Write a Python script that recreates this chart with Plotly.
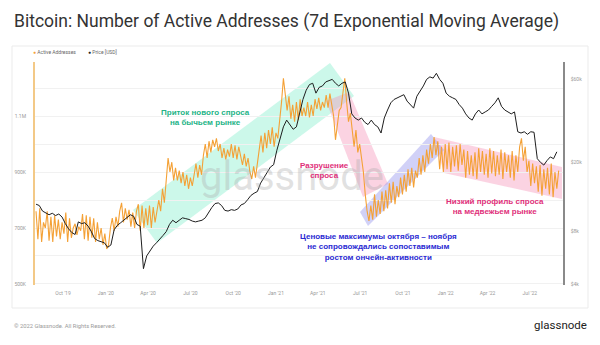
import pandas as pd
import plotly.graph_objects as go

# ---------------- data ----------------
aa_start = "2019-08-04"
active_addresses_k = [
    760, 660, 770, 650, 720,   700, 760, 655, 740, 650,   745, 670, 730, 660, 720,
    680, 755, 650, 735, 665,   700, 715, 675, 705, 690,   750, 660, 745, 655, 740,
    665, 735, 650, 720, 660,   700, 640, 680, 625, 640,   700, 735, 690, 740, 705,
    760, 790, 720, 770, 730,   765, 705, 755, 700, 760,   785, 690, 780, 700, 770,
    710, 780, 700, 775, 720,   770, 800, 760, 840, 790,   880, 950, 900, 935, 870,
    915, 870, 905, 860, 900,   850, 890, 840, 880, 850,   900, 930, 880, 925, 890,
    960, 1000, 950, 1010, 970, 1015, 990, 1020, 975, 1000, 950, 985, 945, 980, 955,
    1000, 950, 995, 945, 990,  960, 925, 965, 920, 950,   900, 875, 920, 880, 930,
    980, 1030, 970, 1040, 985, 1050, 1000, 1060, 990, 1040, 1020, 1080, 1150, 1235, 1180,
    1120, 1170, 1090, 1140, 1080, 1150, 1085, 1160, 1100, 1130, 1100, 1150, 1095, 1140, 1100,
    1160, 1125, 1165, 1120, 1150, 1130, 1175, 1130, 1180, 1140, 1100, 1015, 1060, 1120, 1130,
    1180, 1235, 1150, 1080, 1110, 1040, 990, 1050, 970, 1000, 950, 900, 820, 760, 725,
    780, 730, 820, 740, 800,   750, 830, 760, 835, 770,   860, 790, 865, 785, 850,
    810, 880, 820, 890, 830,   910, 850, 915, 845, 905,   880, 950, 890, 960, 900,
    980, 930, 1000, 950, 1025, 960, 1010, 910, 990, 900,  1000, 910, 1005, 900, 990,
    920, 995, 905, 1000, 925,  980, 880, 975, 890, 960,   885, 970, 875, 985, 900,
    975, 890, 965, 880, 985,   895, 975, 885, 960, 890,   980, 875, 970, 900, 960,
    880, 975, 870, 960, 900,   990, 1020, 940, 990, 900,  940, 850, 930, 860, 920,
    830, 925, 815, 910, 840,   915, 820, 930, 810, 900,   840, 905,
]
price_start = "2019-08-04"
price_usd_k = [
    11.5, 11.3, 10.5, 10.2, 10.0, 10.2, 9.9, 10.1, 9.7, 8.9, 8.3, 7.9, 7.7,
    9.1, 8.9, 9.0, 8.6, 8.0, 7.3, 7.1, 7.0, 6.9, 6.5, 6.7,
    8.2, 8.7, 9.0, 9.3, 9.6, 10.0, 9.8, 8.8, 8.6, 4.9, 5.8, 6.2, 6.6,
    6.9, 7.2, 7.6, 8.0, 8.8, 9.3, 9.0, 9.3, 9.6, 9.5, 9.4, 9.2, 9.1, 9.2, 9.3,
    9.6, 10.3, 11.0, 11.6, 11.7, 11.3, 10.6, 10.5, 10.7, 10.6, 10.8, 11.4, 11.6,
    12.2, 12.9, 13.3, 13.6, 15.2, 16.2, 17.5, 18.8, 19.4, 23.5, 27, 32, 35,
    33, 31, 32, 38, 46, 52, 56, 57, 50, 54, 55, 58, 59, 60, 57, 55, 57, 58,
    50, 38, 36, 35, 36, 34, 33, 35, 33, 32, 29.5, 36, 40, 44,
    46, 47, 47.5, 49, 45, 43, 41, 48, 51, 55, 60, 62, 61, 65, 60, 57,
    50, 48, 47, 46, 43, 41, 38, 36, 35, 38, 40, 38, 39, 40, 42, 44, 47,
    42, 40, 39, 38, 39, 30, 29.5, 30, 29, 30, 29.8, 21, 20, 19.3, 20.5, 21.5, 21, 23,
]
x_tick_dates = ["2019-10-01", "2020-01-01", "2020-04-01", "2020-07-01", "2020-10-01",
                "2021-01-01", "2021-04-01", "2021-07-01", "2021-10-01", "2022-01-01",
                "2022-04-01", "2022-07-01"]
x_tick_labels = ["Oct '19", "Jan '20", "Apr '20", "Jul '20", "Oct '20", "Jan '21",
                 "Apr '21", "Jul '21", "Oct '21", "Jan '22", "Apr '22", "Jul '22"]
left_tick_vals = [500000, 600000, 700000, 800000, 900000, 1000000, 1100000, 1200000]
left_tick_text = ["500K", "", "700K", "", "900K", "", "1.1M", ""]
right_tick_vals = [4000, 8000, 20000, 60000]
right_tick_text = ["$4k", "$8k", "$20k", "$60k"]

aa_dates = pd.date_range(aa_start, periods=len(active_addresses_k), freq="4D")
price_dates = pd.date_range(price_start, periods=len(price_usd_k), freq="7D")
aa_vals = [v * 1000 for v in active_addresses_k]
price_vals = [v * 1000 for v in price_usd_k]

# ---------------- geometry helpers (pixel -> paper) ----------------
W, H = 600, 345
L, R, T, B = 35, 563, 62, 285


def P(x, y):
    return (x - L) / (R - L), (B - y) / (B - T)


def poly(points):
    pts = [P(x, y) for x, y in points]
    return "M " + " L ".join(f"{a:.4f},{b:.4f}" for a, b in pts) + " Z"


fig = go.Figure()
fig.add_trace(go.Scatter(x=aa_dates, y=aa_vals, mode="lines", name="Active Addresses",
                         line=dict(color="#f4a136", width=1.1), yaxis="y"))
fig.add_trace(go.Scatter(x=price_dates, y=price_vals, mode="lines", name="Price [USD]",
                         line=dict(color="#1e1e1e", width=1), yaxis="y2"))

shapes = []
# card
cx0, cy0 = P(12, 46)
cx1, cy1 = P(588, 308)
shapes.append(dict(type="rect", xref="paper", yref="paper", x0=cx0, y0=cy1, x1=cx1, y1=cy0,
                   line=dict(color="#ebebeb", width=1), fillcolor="rgba(0,0,0,0)", layer="below"))
# bands
bands = [
    ([(133, 210), (330, 63), (354, 96), (157, 243)], "rgba(110,235,195,0.35)"),
    ([(326, 101), (349, 92), (388, 184), (363, 197)], "rgba(245,140,180,0.38)"),
    ([(434, 137), (562, 167), (562, 199), (444, 173)], "rgba(245,140,180,0.38)"),
    ([(360, 212), (431, 134), (444, 150), (368, 226)], "rgba(140,140,235,0.40)"),
]
for pts, col in bands:
    shapes.append(dict(type="path", xref="paper", yref="paper", path=poly(pts),
                       fillcolor=col, line=dict(width=0), layer="below"))

annotations = []


def ann(x, y, text, size, color, anchor="center", family="Liberation Sans", bold=False):
    X, Y = P(x, y)
    if bold:
        text = "<b>" + text + "</b>"
    annotations.append(dict(x=X, y=Y, xref="paper", yref="paper", text=text, showarrow=False,
                            xanchor=anchor, yanchor="middle",
                            font=dict(size=size, color=color, family=family)))


ann(12, 22, "Bitcoin: Number of Active Addresses (7d Exponential Moving Average)", 17.5, "#333333",
    anchor="left", family="Roboto")
ann(31, 52, "<span style='color:#f5a23a'>●</span> Active Addresses", 5, "#666666", anchor="left",
    family="Roboto")
ann(86, 52, "<span style='color:#222'>●</span> Price [USD]", 5, "#666666", anchor="left",
    family="Roboto")
ann(292, 176, "glassnode", 40, "rgba(170,170,170,0.35)", family="Roboto")
ann(205, 118, "Приток нового спроса<br>на бычьем рынке", 8, "#23b386", bold=True)
ann(324, 170, "Разрушение<br>спроса", 8, "#e0307a", bold=True)
ann(495, 206, "Низкий профиль спроса<br>на медвежьем рынке", 8, "#e0307a", bold=True)
ann(378, 247, "Ценовые максимумы октября – ноября<br>не сопровождались сопоставимым<br>ростом ончейн-активности",
    8, "#2a2ad2", bold=True)
ann(12, 326, "© 2022 Glassnode. All Rights Reserved.", 5.8, "#9a9a9a", anchor="left", family="Roboto")
ann(589, 325, "glassnode", 11.5, "#222222", anchor="right", family="Roboto")

fig.update_layout(
    width=W, height=H,
    margin=dict(l=L, r=W - R, t=T, b=H - B),
    paper_bgcolor="white", plot_bgcolor="white",
    showlegend=False,
    font=dict(family="Roboto", color="#999999"),
    xaxis=dict(type="date", range=["2019-08-01 19:00", "2022-09-10 07:00"],
               tickvals=x_tick_dates, ticktext=x_tick_labels, showgrid=False,
               tickfont=dict(size=5, color="#999999"), ticks="", zeroline=False,
               showline=False, ticklabelstandoff=4),
    yaxis=dict(range=[496400, 1292900], tickvals=left_tick_vals, ticktext=left_tick_text,
               showgrid=True, gridcolor="#f1f1f1", gridwidth=1, zeroline=False,
               showline=True, linecolor="#f3c987", linewidth=2,
               tickfont=dict(size=5, color="#999999"), ticks="", ticklabelstandoff=6),
    yaxis2=dict(type="log", range=[3.5963, 4.8780], overlaying="y", side="right",
                tickvals=right_tick_vals, ticktext=right_tick_text, showgrid=False,
                showline=True, linecolor="#8a8a8a", linewidth=1.5, zeroline=False,
                tickfont=dict(size=5, color="#999999"), ticks="", ticklabelstandoff=5),
    shapes=shapes,
    annotations=annotations,
)

fig.write_html("out.html")
